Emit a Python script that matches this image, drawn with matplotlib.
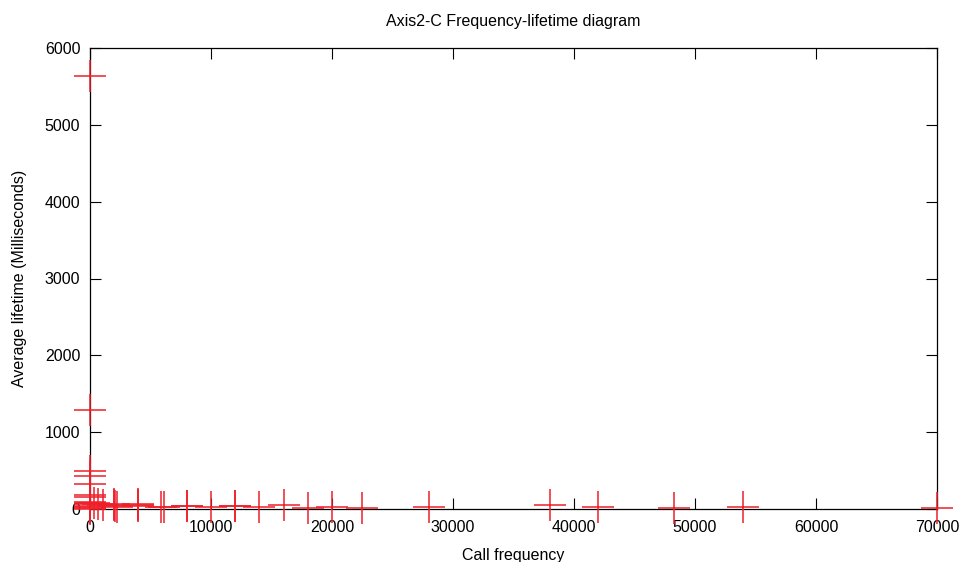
import matplotlib
matplotlib.use("Agg")
import matplotlib.pyplot as plt

plt.rcParams['font.family'] = ['Liberation Sans', 'DejaVu Sans']

# call frequency vs. average object lifetime (ms)
call_freq = [0, 0, 0, 0, 0, 0, 0, 0, 0, 0, 0, 0, 0, 0,
             300, 700, 1100,
             1950, 2000, 2100, 2250, 4000, 4000, 4000, 5900, 6100, 8000, 8000,
             10000, 12000, 12000, 14000, 16000, 18000, 20000, 22500, 28000,
             38000, 42000, 48300, 54000, 70000]
avg_lifetime = [5630, 1290, 498, 433, 329, 185, 160, 95, 75, 60, 45, 30, 15, 5,
                80, 65, 55,
                55, 70, 40, 30, 50, 35, 60, 20, 30, 43, 35,
                25, 35, 45, 30, 56, 18, 22, 9, 30,
                48, 30, 9, 30, 9]

fig = plt.figure(figsize=(9.64, 5.62), dpi=100)
ax = fig.add_axes([90 / 964, 1 - 509 / 562, (937 - 90) / 964, (509 - 48) / 562])

ax.plot(call_freq, avg_lifetime, linestyle='none', marker='+', markersize=23,
        markeredgewidth=1.1, color='#ee1f2a', clip_on=False, zorder=3)

ax.set_xlim(0, 70000)
ax.set_ylim(0, 6000)
ax.set_xticks(range(0, 70001, 10000))
ax.set_yticks(range(0, 6001, 1000))

ax.tick_params(direction='in', length=8, width=0.8, top=True, right=True,
               labelsize=11.5, colors='black')
ax.tick_params(axis='x', pad=8)
ax.tick_params(axis='y', pad=7)
for s in ax.spines.values():
    s.set_linewidth(0.9)

ax.set_title('Axis2-C Frequency-lifetime diagram', fontsize=11.5, pad=16)
ax.set_xlabel('Call frequency', fontsize=11.5, labelpad=9)
ax.set_ylabel('Average lifetime (Milliseconds)', fontsize=11.5, labelpad=13)

fig.savefig('out.png', dpi=100)
